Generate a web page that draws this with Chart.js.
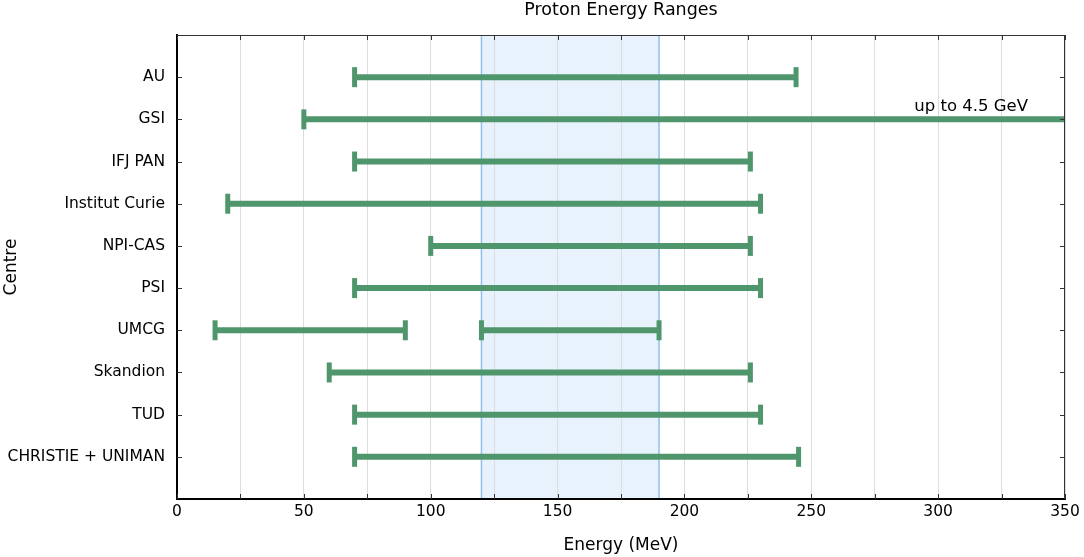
<!DOCTYPE html>
<html lang="en">
<head>
<meta charset="utf-8">
<title>Proton Energy Ranges</title>
<script src="https://cdn.jsdelivr.net/npm/chart.js@4.4.0/dist/chart.umd.min.js"></script>
<style>
  body { margin: 0; background: #fff; }
  #wrap { width: 1084px; height: 557px; }
</style>
</head>
<body>
<div id="wrap"><canvas id="myChart"></canvas></div>
<script>
  // centres, top to bottom
  const centres = ["AU", "GSI", "IFJ PAN", "Institut Curie", "NPI-CAS", "PSI",
    "UMCG", "Skandion", "TUD", "CHRISTIE + UNIMAN"];

  // one entry per energy range (UMCG has two)
  const rangeCentre = ["AU", "GSI", "IFJ PAN", "Institut Curie", "NPI-CAS", "PSI",
    "UMCG", "UMCG", "Skandion", "TUD", "CHRISTIE + UNIMAN"];
  const rangeMin = [70, 50, 70, 20, 100, 70, 15, 120, 60, 70, 70];
  const rangeMax = [244, 4500, 226, 230, 226, 230, 90, 190, 226, 230, 245];

  const bandMin = 120, bandMax = 190; // shaded clinical band
  const gsiNote = "up to 4.5 GeV";
  const xTicks = [0, 50, 100, 150, 200, 250, 300, 350];

  const FONT = "'DejaVu Sans', sans-serif";
  const green = "rgb(80,150,108)";

  var datasets = rangeCentre.map(function (c, i) {
    var row = centres.indexOf(c) + 1;
    return {
      data: [{x: rangeMin[i], y: row}, {x: rangeMax[i], y: row}],
      showLine: true,
      borderColor: green,
      borderWidth: 6,
      pointStyle: "line",
      rotation: 90,
      pointRadius: 10,
      pointBorderWidth: 5,
      pointBorderColor: green,
      pointBackgroundColor: green,
      pointHoverRadius: 10
    };
  });

  // light blue band behind everything
  const bandPlugin = {
    id: "band",
    beforeDraw(chart) {
      const {ctx, chartArea: a, scales: {x}} = chart;
      const x0 = x.getPixelForValue(bandMin), x1 = x.getPixelForValue(bandMax);
      ctx.save();
      ctx.fillStyle = "#e8f2fc";
      ctx.fillRect(x0, a.top, x1 - x0, a.bottom - a.top);
      ctx.strokeStyle = "#8fc0ea";
      ctx.lineWidth = 1.5;
      ctx.beginPath();
      ctx.moveTo(x0, a.top); ctx.lineTo(x0, a.bottom);
      ctx.moveTo(x1, a.top); ctx.lineTo(x1, a.bottom);
      ctx.stroke();
      ctx.restore();
    }
  };

  // frame + inward ticks + the GSI note
  const framePlugin = {
    id: "frame",
    afterDraw(chart) {
      const {ctx, chartArea: a, scales: {x, y}} = chart;
      ctx.save();
      ctx.strokeStyle = "#333";
      ctx.lineWidth = 1;
      ctx.beginPath();
      ctx.moveTo(a.left, a.top + 0.5); ctx.lineTo(a.right, a.top + 0.5);
      ctx.moveTo(a.right - 0.5, a.top); ctx.lineTo(a.right - 0.5, a.bottom);
      x.ticks.forEach(function (t) {
        const px = Math.round(x.getPixelForValue(t.value)) + 0.5;
        ctx.moveTo(px, a.top); ctx.lineTo(px, a.top + 5);
        ctx.moveTo(px, a.bottom); ctx.lineTo(px, a.bottom - 5);
      });
      y.ticks.forEach(function (t) {
        const py = Math.round(y.getPixelForValue(t.value)) + 0.5;
        ctx.moveTo(a.left, py); ctx.lineTo(a.left + 5, py);
        ctx.moveTo(a.right, py); ctx.lineTo(a.right - 5, py);
      });
      ctx.stroke();

      ctx.fillStyle = "#000";
      ctx.font = "16.5px " + FONT;
      ctx.textAlign = "center";
      ctx.textBaseline = "alphabetic";
      const gy = y.getPixelForValue(centres.indexOf("GSI") + 1);
      ctx.fillText(gsiNote, x.getPixelForValue(313), gy - 8);
      ctx.restore();
    }
  };

  var ctx = document.getElementById("myChart").getContext("2d");
  var chart = new Chart(ctx, {
    type: "scatter",
    data: {datasets: datasets},
    plugins: [bandPlugin, framePlugin],
    options: {
      responsive: true,
      maintainAspectRatio: false,
      animation: false,
      layout: {padding: {left: 0, right: 19, top: 0, bottom: 0}},
      plugins: {
        legend: {display: false},
        tooltip: {enabled: false},
        title: {
          display: true,
          text: "Proton Energy Ranges",
          fullSize: false,
          color: "#000",
          font: {family: FONT, size: 17.5, weight: "normal"},
          padding: {top: 0, bottom: 14}
        }
      },
      scales: {
        x: {
          type: "linear",
          min: 0,
          max: 350,
          afterFit: function (s) { s.height = 58; },
          ticks: {
            stepSize: 25,
            autoSkip: false,
            maxRotation: 0,
            padding: 4,
            color: "#000",
            font: {family: FONT, size: 15.5},
            callback: function (v) { return xTicks.indexOf(v) >= 0 ? String(v) : ""; }
          },
          grid: {color: "#dddddd", lineWidth: 1, drawTicks: false},
          border: {color: "#000", width: 2},
          title: {
            display: true,
            text: "Energy (MeV)",
            color: "#000",
            padding: {top: 4, bottom: 1},
            font: {family: FONT, size: 17}
          }
        },
        y: {
          type: "linear",
          min: 0,
          max: centres.length + 1,
          reverse: true,
          afterFit: function (s) { s.width = 177; },
          afterBuildTicks: function (s) {
            s.ticks = centres.map(function (_, i) { return {value: i + 1}; });
          },
          ticks: {
            autoSkip: false,
            padding: 12,
            color: "#000",
            font: {family: FONT, size: 15.5},
            callback: function (v) { return centres[v - 1]; }
          },
          grid: {display: false, drawTicks: false},
          border: {color: "#000", width: 2},
          title: {
            display: true,
            text: "Centre",
            color: "#000",
            padding: {top: 1, bottom: 1},
            font: {family: FONT, size: 17}
          }
        }
      }
    }
  });
</script>
</body>
</html>
